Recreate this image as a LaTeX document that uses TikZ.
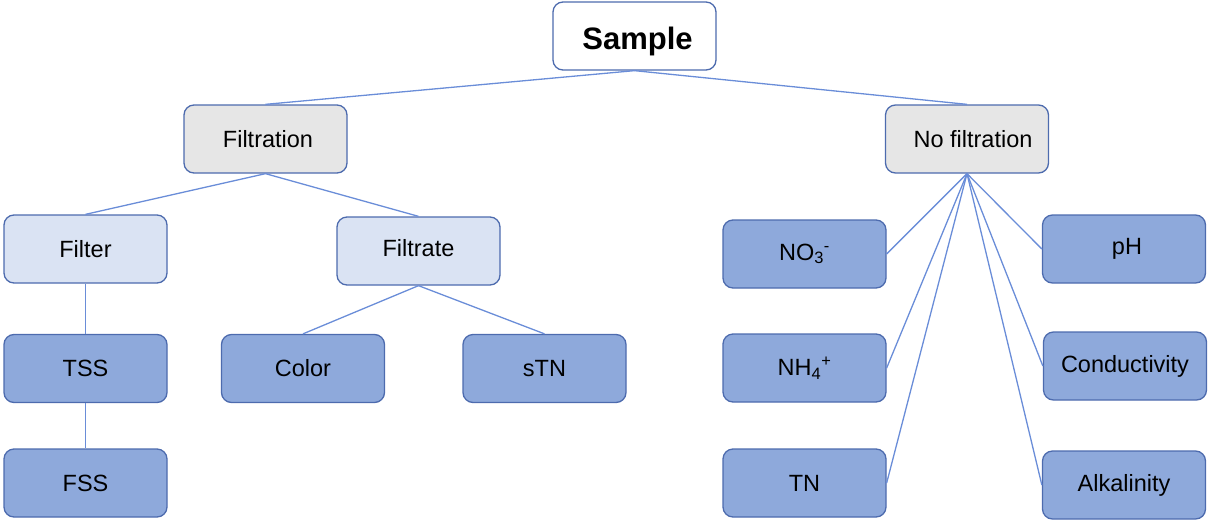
\documentclass[tikz,border=0pt]{standalone}
\usepackage{fontspec}
\setmainfont{Liberation Sans}
\definecolor{gfill}{HTML}{E6E6E6}
\definecolor{lfill}{HTML}{DAE3F3}
\definecolor{dfill}{HTML}{8EA9DB}
\definecolor{bcol}{HTML}{4D6BAE}
\definecolor{lcol}{HTML}{6A8DD8}
\begin{document}
\begin{tikzpicture}[x=1pt,y=-1pt,
  box/.style={draw=bcol,line width=1.3pt,rounded corners=10pt,minimum width=163pt,minimum height=68pt,inner sep=0pt,font=\fontsize{23.5}{27}\selectfont},
  topbox/.style={box,fill=white,font=\fontsize{31}{36}\selectfont\bfseries},
  graybox/.style={box,fill=gfill},
  lightbox/.style={box,fill=lfill},
  darkbox/.style={box,fill=dfill},
  link/.style={draw=lcol,line width=1.3pt}]
\useasboundingbox (0,0) rectangle (1208,520);
\node[topbox] (sample) at (634.5,36) {\hspace*{6pt}\raisebox{-5pt}[\height][\depth]{Sample}};
\node[graybox] (filt) at (265.5,139) {\hspace*{5pt}Filtration};
\node[graybox] (nofilt) at (967,139) {\hspace*{12pt}No filtration};
\node[lightbox] (filter) at (85.5,249) {Filter};
\node[lightbox] (filtrate) at (418.5,251) {\raisebox{3pt}[\height][\depth]{Filtrate}};
\node[darkbox] (tss) at (85.5,368.5) {TSS};
\node[darkbox] (fss) at (85.5,483) {FSS};
\node[darkbox] (color) at (303,368.5) {Color};
\node[darkbox] (stn) at (544.5,368.5) {sTN};
\node[darkbox] (no3) at (804.5,254) {NO\textsubscript{3}\textsuperscript{-}};
\node[darkbox] (nh4) at (804.5,368) {NH\textsubscript{4}\textsuperscript{+}};
\node[darkbox] (tn) at (804.5,483) {TN};
\node[darkbox] (ph) at (1124,249) {\hspace*{6pt}pH};
\node[darkbox] (cond) at (1125,366) {Conductivity};
\node[darkbox] (alk) at (1124,485) {Alkalinity};
\draw[link] (sample.south) -- (filt.north);
\draw[link] (sample.south) -- (nofilt.north);
\draw[link] (filt.south) -- (filter.north);
\draw[link] (filt.south) -- (filtrate.north);
\draw[link] (filter.south) -- (tss.north);
\draw[link] (tss.south) -- (fss.north);
\draw[link] (filtrate.south) -- (color.north);
\draw[link] (filtrate.south) -- (stn.north);
\draw[link] (nofilt.south) -- (no3.east);
\draw[link] (nofilt.south) -- (nh4.east);
\draw[link] (nofilt.south) -- (tn.east);
\draw[link] (nofilt.south) -- (ph.west);
\draw[link] (nofilt.south) -- (cond.west);
\draw[link] (nofilt.south) -- (alk.west);
\end{tikzpicture}
\end{document}
